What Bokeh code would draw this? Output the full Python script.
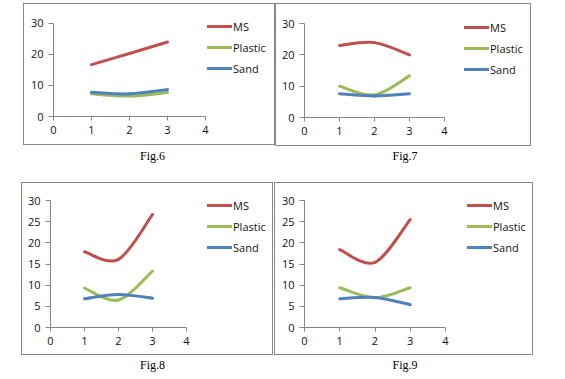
from bokeh.plotting import figure
from bokeh.models import ColumnDataSource, Range1d, FixedTicker, Legend, LegendItem, Div, Spacer
from bokeh.layouts import row, column
from bokeh.embed import file_html
from bokeh.resources import INLINE

# ---------------- data ----------------
x_values = [1, 2, 3]
series_names = ["MS", "Plastic", "Sand"]
series_colors = ["#C0504D", "#9BBB59", "#4F81BD"]

fig6_ms = [16.7, 20.3, 24.0]
fig6_plastic = [7.3, 6.6, 7.7]
fig6_sand = [7.8, 7.3, 8.7]

fig7_ms = [23.0, 23.9, 20.0]
fig7_plastic = [10.0, 7.2, 13.3]
fig7_sand = [7.6, 6.9, 7.6]

fig8_ms = [17.9, 16.1, 26.7]
fig8_plastic = [9.3, 6.5, 13.3]
fig8_sand = [6.8, 7.8, 6.9]

fig9_ms = [18.4, 15.4, 25.5]
fig9_plastic = [9.4, 7.0, 9.4]
fig9_sand = [6.8, 7.1, 5.4]

x_ticks = [0, 1, 2, 3, 4]
y_ticks_top = [0, 10, 20, 30]
y_ticks_bottom = [0, 5, 10, 15, 20, 25, 30]
x_limits = (0, 4)
y_limits = (0, 30)
captions = ["Fig.6", "Fig.7", "Fig.8", "Fig.9"]

# ---------------- styling / layout ----------------
AXIS_COLOR = "#868686"
FONT = "Open Sans"
SERIF = "Liberation Serif"


def smooth_segments(xs, ys):
    """Excel-like smoothed line: Catmull-Rom segments as cubic Bezier control points."""
    n = len(xs)
    cols = {k: [] for k in ["x0", "y0", "x1", "y1", "cx0", "cy0", "cx1", "cy1"]}
    for i in range(n - 1):
        ip = i - 1 if i > 0 else i
        inn = i + 2 if i + 2 < n else i + 1
        cols["x0"].append(xs[i]); cols["y0"].append(ys[i])
        cols["x1"].append(xs[i + 1]); cols["y1"].append(ys[i + 1])
        cols["cx0"].append(xs[i] + (xs[i + 1] - xs[ip]) / 6.0)
        cols["cy0"].append(ys[i] + (ys[i + 1] - ys[ip]) / 6.0)
        cols["cx1"].append(xs[i + 1] - (xs[inn] - xs[i]) / 6.0)
        cols["cy1"].append(ys[i + 1] - (ys[inn] - ys[i]) / 6.0)
    return cols


def panel(series, yticks, W, H, L, T, FW, FH, leg_x, leg_row1):
    # W,H: outer box incl. 1px css border; L,T: plot-area offset; FW,FH: plot-area size
    cw, ch = W - 2, H - 2
    l, t = L - 1, T - 1
    b = ch - t - FH
    top_pad, right_pad = 2, 2
    frame_w = cw - l - right_pad
    frame_h = (t + FH) - top_pad
    x_end = x_limits[0] + (x_limits[1] - x_limits[0]) * frame_w / FW
    y_end = y_limits[0] + (y_limits[1] - y_limits[0]) * frame_h / FH
    p = figure(width=cw, height=ch, output_backend="svg", toolbar_location=None,
               x_range=Range1d(x_limits[0], x_end), y_range=Range1d(y_limits[0], y_end),
               min_border_left=l, min_border_right=right_pad, min_border_top=top_pad,
               min_border_bottom=b,
               background_fill_color="white", border_fill_color="white")
    p.outline_line_color = None
    p.xgrid.visible = False
    p.ygrid.visible = False
    p.styles = {"border": "1px solid #878787"}
    for ax, ticks, lim in ((p.xaxis, x_ticks, x_limits), (p.yaxis, yticks, y_limits)):
        ax.ticker = FixedTicker(ticks=ticks)
        ax.bounds = lim
        ax.axis_line_color = AXIS_COLOR
        ax.major_tick_line_color = AXIS_COLOR
        ax.major_tick_in = 0
        ax.minor_tick_line_color = None
        ax.major_label_text_font = FONT
        ax.major_label_text_font_size = "11px"
        ax.major_label_text_color = "#111111"
        ax.major_label_standoff = 5
    p.xaxis.major_tick_out = 4
    p.yaxis.major_tick_out = 5

    items = []
    for name, color, ys in zip(series_names, series_colors, series):
        src = ColumnDataSource(smooth_segments(x_values, ys))
        rr = p.bezier(x0="x0", y0="y0", x1="x1", y1="y1", cx0="cx0", cy0="cy0",
                      cx1="cx1", cy1="cy1", source=src, line_color=color,
                      line_width=3, line_cap="round")
        items.append(LegendItem(label=name, renderers=[rr], index=0))

    row_h, spacing = 20, 1
    leg_h = 3 * row_h + 2 * spacing
    leg_top = leg_row1 - 1 - row_h / 2          # canvas coords
    vx = (leg_x - 1) - l                         # from frame left
    vy = (t + FH) - (leg_top + leg_h)            # from frame bottom
    legend = Legend(items=items, location=(vx, vy), padding=0, margin=0, spacing=spacing,
                    glyph_width=25, glyph_height=row_h, label_height=row_h, label_standoff=1,
                    label_text_font=FONT, label_text_font_size="11px",
                    label_text_color="#111111", border_line_color=None,
                    background_fill_alpha=0)
    p.add_layout(legend, "center")
    return p


p6 = panel([fig6_ms, fig6_plastic, fig6_sand], y_ticks_top, 254, 144, 30, 20, 152, 94, 184, 24)
p7 = panel([fig7_ms, fig7_plastic, fig7_sand], y_ticks_top, 258, 145, 29, 20, 140, 94, 189, 24)
p8 = panel([fig8_ms, fig8_plastic, fig8_sand], y_ticks_bottom, 254, 175, 29, 18, 136, 127, 186, 23)
p9 = panel([fig9_ms, fig9_plastic, fig9_sand], y_ticks_bottom, 261, 175, 30, 18, 141, 127, 193, 23)


def caption(text, w, h, lh):
    html = ('<div style="font-family:\'%s\';font-size:12px;line-height:%dpx;'
            'text-align:center;width:%dpx;color:#000;">%s</div>' % (SERIF, lh, w, text))
    return Div(text=html, width=w, height=h, margin=0)


layout = column(
    row(Spacer(width=15, height=145), p6, p7),
    row(Spacer(width=15, height=34), caption(captions[0], 259, 34, 16), caption(captions[1], 246, 34, 16)),
    row(Spacer(width=13, height=175), p8, Spacer(width=1, height=175), p9),
    row(Spacer(width=15, height=18), caption(captions[2], 259, 18, 16), caption(captions[3], 246, 18, 16)),
    margin=(3, 0, 0, 8),
)

open("out.html", "w").write(file_html(layout, INLINE))
